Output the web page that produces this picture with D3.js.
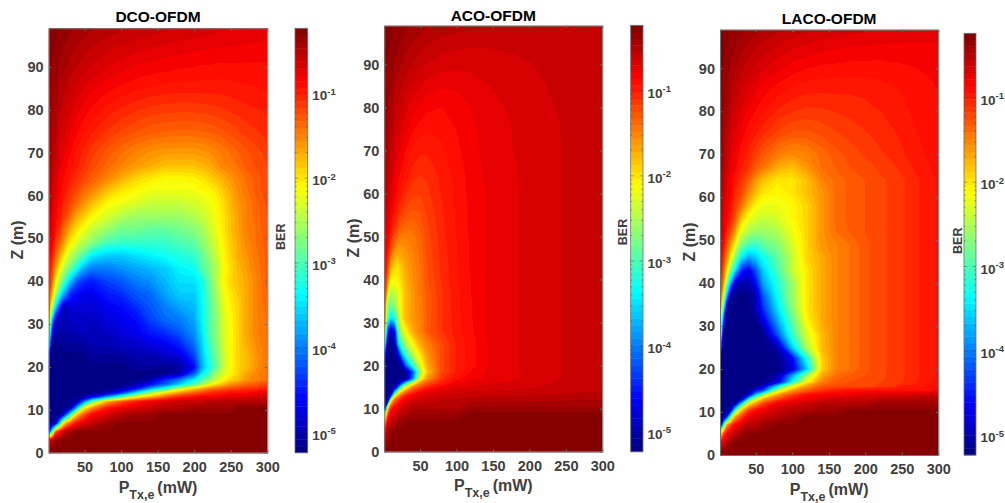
<!DOCTYPE html>
<html><head><meta charset="utf-8">
<script src="https://cdn.jsdelivr.net/npm/d3@7"></script>
<style>html,body{margin:0;padding:0;background:#fff}svg{display:block}text{font-family:"Liberation Sans",Arial,sans-serif;font-weight:bold}</style>
</head><body><svg id="c" width="1005" height="503"></svg>
<script>
// grid values: ten times |log10(BER)|; rows run top (high Z) to bottom
const powerMW=[2,6,10,15,20,25,30,40,50,60,80,100,120,140,160,180,200,210,220,230,240,250,260,270,285,300];
const distanceZ=[98.5,95,90,85,80,75,70,67,64,61,58,55,52,49,46,43,40,37,34,31,28,25,22.5,20,18.5,17,16,15,14,13,12,10.5,9,7,5,3,1];
const titles=["DCO-OFDM","ACO-OFDM","LACO-OFDM"];
const xTicks=[50,100,150,200,250,300];
const yTicks=[0,10,20,30,40,50,60,70,80,90];
const berExponents=[-1,-2,-3,-4,-5];
const dcoGrid=[
[2.8,2.9,3,3.2,3.4,3.6,3.8,4.1,4.4,4.7,5.1,5.4,5.7,6,6.2,6.4,6.6,6.7,6.8,6.9,7,7.1,7.2,7.3,7.4,7.5],
[2.9,3,3.2,3.5,3.8,4,4.3,4.7,5.1,5.4,5.9,6.3,6.6,6.9,7.1,7.3,7.5,7.6,7.6,7.7,7.7,7.8,7.8,7.9,7.9,8],
[3,3.2,3.5,4,4.4,4.7,5,5.5,6,6.4,7,7.5,7.9,8.1,8.3,8.5,8.6,8.7,8.7,8.8,8.8,8.8,8.8,8.8,8.8,8.8],
[3.2,3.5,4,4.6,5.1,5.5,5.9,6.5,7.1,7.6,8.3,8.8,9.2,9.5,9.7,9.8,9.8,9.8,9.8,9.8,9.8,9.7,9.6,9.5,9.4,9.3],
[3.4,3.9,4.5,5.2,5.8,6.3,6.8,7.5,8.2,8.8,9.7,10.3,10.8,11.2,11.4,11.5,11.5,11.4,11.3,11.2,11,10.8,10.6,10.4,10.2,10],
[3.7,4.3,5,5.9,6.5,7.1,7.6,8.5,9.3,10,11,11.8,12.5,13,13.3,13.4,13.4,13.3,13.1,12.9,12.6,12.2,11.8,11.4,11,10.6],
[4,4.7,5.6,6.6,7.4,8,8.6,9.6,10.5,11.4,12.8,14,15,15.8,16.2,16.3,16.2,16,15.7,15.2,14.6,14,13.4,12.8,12.1,11.4],
[4,5,6,7,8,8.5,9,10,11,12,13.5,15,16,17,18,18,18,17.5,17,16,15,14.5,14,13,12.3,11.7],
[5,5,7,8,8.5,9,10,11,12,13,15,17,19,20,21,21,20.5,20,19,18,17,16,15,14,13,12],
[5,6,7,8,9,10,11,12,14,15,18,20,21,22,22,22,22,21,21,20,18.5,17,15.5,14.5,13,12],
[5,6,8,9,10,11,12,14,16,18,21,22,23,24,24,24,23,23,22,21,19.5,17.5,16,15,13.5,12.3],
[6,7,8,10,11,12,14,17,19,21,23,25,26,26,26,26,25,24,23,21.5,20,18,16.5,15,13.7,12.5],
[6,7,9,11,13,15,17,20,22,24,26,28,28,29,29,28,27,26,24,22,20,18,16.5,15,14,12.7],
[7,8,11,13,15,18,20,23,25,27,30,31,31,31,31,30,29,27,25,23,20.5,18.5,17,15.5,14,12.8],
[8,10,13,16,19,22,24,27,30,34,36,36,35,34,33,32,31,29,26.5,24,21,19,17,16,14.3,13],
[9,12,16,20,23,26,28,33,38,40,40,39,38,37,36,34,33,30,27.5,25,21.5,19.5,17.7,16.5,14.6,13],
[10,14,20,24,28,32,36,42,44,45,43,42,40,39,37,35,35,33,29,25,21,19,18,17,15,13],
[12,18,24,30,36,40,44,46,47,47,45,44,42,41,38,36,36,33.5,29.5,26,22,20,18.5,17,15,13.3],
[15,24,34,42,48,50,48,48,48,48,47,46,44,42,40,38,37,34,30,26.5,22.5,20.5,19,17,15,13.5],
[20,36,47,50,50,50,49,49,49,49,48,47,46,43,41,40,38,34,30,27,23,21,19,17,15,14],
[26,47,50,50,51,50,50,50,49,50,49,48,47,45,44,42,39,35,30,27,23,21,19,17,15,14],
[36,52,52,52,51,51,51,51,51,50,50,49,49,48,47,45,41,36,31,27.5,23.5,21,19,17.5,15.5,14],
[50,52,52,52,52,52,52,52,52,51,51,51,50,50,49,48,43,37,32,28,24,21,19,18,16,14],
[52,52,52,52,52,52,52,52,52,52,52,52,51,51,51,51,46,38,33,29,24,21,19,18,16,14],
[52,52,52,52,52,52,52,52,52,52,52,52,52,52,52,50,42,35,31,26,23,21,19,17,15,14],
[52,52,52,52,52,52,52,52,52,52,52,52,52,50,44,40,34,30,27,24,21,19,18,16,15,14],
[52,52,52,52,52,52,52,52,52,52,52,52,50,46,42,36,30,27,23,20,18,16,15,14,13,12],
[52,52,52,52,52,52,52,52,52,52,52,50,46,38,32,24,19,17,15,14,13,12,12,11,11,10],
[52,52,52,52,52,52,52,52,52,52,50,44,35,26,20,16,13,12,11,10,10,9,9,9,8,8],
[52,52,52,52,52,52,52,52,50,46,38,29,21,17,13,10,9,8,8,8,7,7,7,7,6,6],
[52,52,52,52,52,52,52,50,40,30,18,13,10,8,7,6,6,6,5,5,5,5,5,5,5,5],
[52,52,52,52,52,52,50,36,21,16,10,8,7,6,5,5,4,4,4,4,4,4,3,3,3,3],
[52,52,52,52,50,42,34,19,13,9,7,5,4,4,3,3,3,3,3,3,3,3,3,3,3,3],
[52,52,50,38,24,17,14,9,7,6,4,3,3,3,3,3,3,3,3,3,3,3,3,3,3,3],
[44,30,14,10,7,5,4,3,3,3,3,3,3,3,3,3,3,3,3,3,3,3,3,3,3,3],
[7,5,4,3,3,3,3,3,3,3,3,3,3,3,3,3,3,3,3,3,3,3,3,3,3,3],
[3,3,3,3,3,3,3,3,3,3,3,3,3,3,3,3,3,3,3,3,3,3,3,3,3,3]];
const acoGrid=[
[2.8,2.9,3,3.2,3.4,3.6,3.8,4.1,4.4,4.7,5,5.2,5.4,5.5,5.6,5.6,5.6,5.6,5.6,5.6,5.6,5.6,5.6,5.6,5.6,5.6],
[2.9,3,3.2,3.5,3.8,4,4.3,4.7,5.1,5.4,5.8,6,6.1,6.1,6.1,6.1,6,6,5.9,5.9,5.8,5.8,5.7,5.7,5.6,5.6],
[3,3.2,3.5,4,4.4,4.7,5,5.5,6,6.3,6.7,6.8,6.8,6.7,6.6,6.4,6.3,6.2,6.1,6.1,6,5.9,5.8,5.8,5.7,5.6],
[3.2,3.5,4,4.6,5.1,5.5,5.9,6.5,7,7.4,7.7,7.7,7.4,7.1,6.9,6.7,6.5,6.4,6.3,6.2,6.1,6,5.9,5.8,5.7,5.6],
[3.4,3.9,4.5,5.2,5.8,6.3,6.8,7.5,8,8.4,8.6,8.3,7.8,7.4,7.1,6.9,6.6,6.5,6.4,6.3,6.2,6.1,6,5.9,5.8,5.7],
[3.7,4.3,5,5.9,6.5,7.1,7.6,8.5,9,9.3,9.2,8.6,8,7.5,7.2,7,6.7,6.6,6.5,6.4,6.3,6.1,6,5.9,5.8,5.7],
[4,4.7,5.6,6.6,7.4,8,8.6,9.6,10,10,9.5,8.8,8.1,7.6,7.3,7,6.8,6.7,6.5,6.4,6.3,6.2,6.1,5.9,5.8,5.7],
[4.2,5,6,7,7.8,8.5,9.1,10,10.5,10.4,9.7,9,8.2,7.7,7.3,7.1,6.8,6.7,6.6,6.4,6.3,6.2,6.1,6,5.8,5.7],
[4.5,5.3,6.4,7.5,8.4,9,9.7,10.7,11,10.8,9.9,9.1,8.3,7.7,7.4,7.1,6.8,6.7,6.6,6.5,6.3,6.2,6.1,6,5.8,5.7],
[4.8,5.7,6.8,8,9,9.7,10.4,11.3,11.5,11.1,10,9.2,8.3,7.8,7.4,7.1,6.9,6.7,6.6,6.5,6.3,6.2,6.1,6,5.8,5.7],
[5.1,6.1,7.4,8.7,9.8,10.6,11.3,12,12,11.3,10.2,9.2,8.4,7.8,7.4,7.1,6.9,6.7,6.6,6.5,6.3,6.2,6.1,6,5.8,5.7],
[5.5,6.7,8.1,9.7,10.9,11.8,12.4,13,12.6,11.6,10.3,9.3,8.4,7.8,7.4,7.1,6.9,6.7,6.6,6.5,6.3,6.2,6.1,6,5.8,5.7],
[6,7.4,9.2,11,12.5,13.3,13.8,13.9,13.2,11.9,10.4,9.3,8.4,7.8,7.4,7.1,6.9,6.7,6.6,6.5,6.3,6.2,6.1,6,5.8,5.7],
[6.6,8.4,10.8,13.2,14.8,15.2,15,14.6,13.6,12.1,10.5,9.4,8.5,7.8,7.4,7.1,6.9,6.7,6.6,6.5,6.3,6.2,6.1,6,5.8,5.7],
[7.2,10,13.5,16,17,16.6,16,15,13.9,12.3,10.6,9.4,8.5,7.8,7.4,7.1,6.9,6.7,6.6,6.5,6.3,6.2,6.1,6,5.8,5.7],
[8,12,16.8,19,19.5,18,16.8,15.4,14.1,12.5,10.7,9.5,8.5,7.8,7.4,7.1,6.9,6.7,6.6,6.5,6.3,6.2,6.1,6,5.8,5.7],
[9,15,21,21,20.5,19,17.4,15.7,14.3,12.6,10.8,9.5,8.6,7.8,7.4,7.1,6.9,6.7,6.6,6.5,6.3,6.2,6.1,6,5.8,5.7],
[10,20,25,24,22,20,18,16,14.5,13,11,9.6,8.6,7.8,7.4,7.1,6.9,6.7,6.6,6.5,6.3,6.2,6.1,6,5.8,5.7],
[12,28,28,27,23,20,18,16,14.7,13,11,9.6,8.7,7.8,7.4,7.1,6.9,6.7,6.6,6.5,6.3,6.2,6.1,6,5.8,5.7],
[14,30,35,33,26,20,18,16,15,13,11,9.7,8.7,7.8,7.4,7.1,6.9,6.7,6.6,6.5,6.3,6.2,6.1,6,5.8,5.7],
[18,44,50,46,30,24,21,17,15,13,11,9.8,8.8,7.8,7.4,7.1,6.9,6.7,6.6,6.5,6.3,6.2,6.1,6,5.8,5.7],
[30,52,52,50,36,30,26,21,17,15,12,10,9,7.9,7.4,7.1,6.9,6.7,6.6,6.5,6.3,6.2,6.1,6,5.8,5.7],
[46,52,52,52,48,38,32,25,20,16,12,10,9,7.9,7.4,7.1,6.9,6.7,6.6,6.5,6.3,6.2,6.1,6,5.8,5.7],
[52,52,52,52,52,50,42,32,23,17,12,10,9,7.9,7.4,7.1,6.9,6.7,6.6,6.5,6.3,6.2,6.1,6,5.8,5.7],
[52,52,52,52,52,52,52,42,26,18,12,10,8.5,7.8,7.4,7.1,6.9,6.7,6.6,6.5,6.3,6.2,6.1,6,5.8,5.7],
[52,52,52,52,52,52,52,40,22,16,11,9,8.2,7.7,7.4,7.1,6.9,6.7,6.6,6.5,6.3,6.2,6.1,6,5.8,5.7],
[52,52,52,52,50,44,36,23,16,13,10,8,7.4,7.2,7,6.8,6.7,6.5,6.4,6.3,6.2,6.1,6,5.9,5.8,5.7],
[52,52,52,50,40,28,22,15,12,10,8,7.3,7,6.8,6.7,6.5,6.4,6.3,6.2,6.1,6,6,5.9,5.8,5.7,5.6],
[52,52,52,38,26,19,15,11,9,8,7,6.5,6.3,6.2,6.1,6,6,5.9,5.9,5.8,5.8,5.7,5.7,5.6,5.6,5.5],
[52,52,44,22,16,12,10,8,7,6.8,6.2,5.9,5.7,5.6,5.6,5.5,5.5,5.4,5.4,5.4,5.3,5.3,5.3,5.2,5.2,5.2],
[52,50,22,14,11,9,8,7,6.3,6,5.5,5.2,5.1,5,5,4.9,4.9,4.8,4.8,4.8,4.8,4.7,4.7,4.7,4.7,4.7],
[50,22,12,9,8,7,6,5,5,5,5,5,4,4,4,4,4,4,4,4,4,4,4,4,4,4],
[30,12,8,7,6,5,5,4,4,4,4,4,3,3,3,3,3,3,3,3,3,3,3,3,3,3],
[16,7,6,5,4,4,3,3,3,3,3,3,3,3,3,3,3,3,3,3,3,3,3,3,3,3],
[8,5,4,3,3,3,3,3,3,3,3,3,3,3,3,3,3,3,3,3,3,3,3,3,3,3],
[5,4,3,3,3,3,3,3,3,3,3,3,3,3,3,3,3,3,3,3,3,3,3,3,3,3],
[3,3,3,3,3,3,3,3,3,3,3,3,3,3,3,3,3,3,3,3,3,3,3,3,3,3]];
const lacoGrid=[
[2.8,2.9,3,3.2,3.4,3.6,3.9,4.2,4.6,4.9,5.4,5.8,6.2,6.5,6.7,6.9,7,7.1,7.1,7.2,7.2,7.3,7.3,7.3,7.3,7.3],
[2.9,3,3.2,3.5,3.8,4.1,4.4,4.9,5.4,5.8,6.4,6.9,7.2,7.5,7.7,7.8,7.9,7.9,8,8,8,8,8,8,8,8],
[3,3.2,3.5,4,4.5,4.9,5.3,5.9,6.5,6.9,7.6,8.2,8.6,8.8,8.9,9,9,9,9,8.9,8.9,8.8,8.7,8.6,8.5,8.4],
[3.2,3.5,4,4.7,5.3,5.8,6.3,7,7.6,8.2,9,9.6,9.9,10,10,10,9.9,9.8,9.7,9.6,9.5,9.3,9.1,9,8.8,8.6],
[3.4,3.9,4.5,5.3,6,6.6,7.1,8,8.7,9.3,10.3,10.9,11.2,11.1,10.9,10.7,10.5,10.3,10.2,10,9.8,9.6,9.4,9.2,9,8.7],
[3.7,4.3,5,6,6.8,7.5,8.1,9.1,10,10.7,11.9,12.6,12.7,12.3,11.8,11.4,11,10.8,10.6,10.4,10.2,10,9.7,9.4,9.1,8.8],
[4,4.7,5.6,6.7,7.7,8.4,9.2,10.4,11.6,12.8,14.6,15.5,15,13.8,12.8,12.1,11.6,11.4,11.1,10.9,10.6,10.3,10,9.7,9.3,8.9],
[4,5,6,7,8,9,10,11,13,14,17,18,16,14,13.2,12.5,12,11.8,11.5,11.3,11,10.7,10.3,10,9.5,9],
[5,5,7,8,9,10,11,13,16,18,20,20,18,15,13.8,13,12.5,12.2,11.9,11.7,11.4,11.1,10.7,10.3,9.8,9.3],
[5,6,7,8,10,11,12,15,18,20,21,20,18,16,13.8,13,12.5,12.2,11.9,11.7,11.4,11.1,10.7,10.3,9.8,9.3],
[5,6,8,9,11,12,14,18,21,22,22,21,19,16,13.8,13,12.5,12.2,11.9,11.7,11.4,11.1,10.7,10.3,9.8,9.3],
[6,7,8,10,12,15,18,22,23,24,23,21,19,16,13.8,13,12.5,12.2,11.9,11.7,11.4,11.1,10.7,10.3,9.8,9.3],
[6,7,10,12,15,19,22,25,26,26,25,22,19,16,14,13.2,12.5,12.2,11.9,11.7,11.4,11.1,10.7,10.3,9.8,9.3],
[7,9,12,16,19,24,27,30,31,29,27,23,19,16,15,14,12.8,12.3,11.9,11.7,11.4,11.1,10.7,10.3,9.8,9.3],
[8,11,15,20,25,29,34,38,36,33,29,24,19,17,15,14,12.8,12.3,11.9,11.7,11.4,11.1,10.7,10.3,9.8,9.3],
[9,13,19,26,32,38,44,47,42,36,30,24,20,17,15,14,12.8,12.3,11.9,11.7,11.4,11.1,10.7,10.3,9.8,9.3],
[10,16,26,36,46,50,50,50,46,38,32,26,20,17,15,14,12.8,12.3,11.9,11.7,11.4,11.1,10.7,10.3,9.8,9.3],
[12,22,36,50,52,52,52,52,50,42,33,26,20,17,15,14,12.8,12.3,11.9,11.7,11.4,11.1,10.7,10.3,9.8,9.3],
[15,32,50,52,52,52,52,52,50,44,35,27,20,17,15,14,12.8,12.3,11.9,11.7,11.4,11.1,10.7,10.3,9.8,9.3],
[20,44,52,52,52,52,52,52,52,48,38,29,21,17,15,14,12.8,12.3,11.9,11.7,11.4,11.1,10.7,10.3,9.8,9.3],
[26,52,52,52,52,52,52,52,52,52,42,31,23,18,15,14,12.8,12.3,11.9,11.7,11.4,11.1,10.7,10.3,9.8,9.3],
[40,52,52,52,52,52,52,52,52,52,50,36,25,18,15,14,12.8,12.3,11.9,11.7,11.4,11.1,10.7,10.3,9.8,9.3],
[52,52,52,52,52,52,52,52,52,52,52,46,32,19,15,14,12.8,12.3,11.9,11.7,11.4,11.1,10.7,10.3,9.8,9.3],
[52,52,52,52,52,52,52,52,52,52,52,48,36,19,15,14,12.8,12.3,11.9,11.7,11.4,11.1,10.7,10.3,9.8,9.3],
[52,52,52,52,52,52,52,52,52,52,50,38,26,17,14,13,12.5,12.2,11.9,11.7,11.4,11.1,10.7,10.3,9.8,9.3],
[52,52,52,52,52,52,52,52,52,52,48,33,21,15,13,12.5,12.2,12,11.8,11.6,11.3,11,10.6,10.2,9.7,9.2],
[52,52,52,52,52,52,52,52,52,48,34,22,16,13,12,12,12,12,11,11,11,10,10,10,9,9],
[52,52,52,52,52,52,52,52,46,42,24,16,13,11,10,9,9,9,9,9,9,9,9,9,9,8],
[52,52,52,52,52,52,52,48,36,26,16,12,9,8,8,8,7,7,7,7,7,7,7,6,6,6],
[52,52,52,52,52,52,50,33,23,17,12,9,8,7,6,6,6,6,5,5,5,5,5,5,5,5],
[52,52,52,52,52,44,36,21,16,12,8,7,6,5,5,5,5,4,4,4,4,4,4,4,4,4],
[52,52,52,50,36,26,19,12,9,8,6,5,5,4,4,3,3,3,3,3,3,3,3,3,3,3],
[52,52,46,32,19,15,12,8,7,6,5,4,3,3,3,3,3,3,3,3,3,3,3,3,3,3],
[48,30,16,12,9,8,7,5,5,4,3,3,3,3,3,3,3,3,3,3,3,3,3,3,3,3],
[20,12,9,7,6,5,4,3,3,3,3,3,3,3,3,3,3,3,3,3,3,3,3,3,3,3],
[9,7,5,4,3,3,3,3,3,3,3,3,3,3,3,3,3,3,3,3,3,3,3,3,3,3],
[4,3,3,3,3,3,3,3,3,3,3,3,3,3,3,3,3,3,3,3,3,3,3,3,3,3]];

const panels=[
 {grid:dcoGrid,left:48.7,right:267.3,top:28.3,bottom:452.7,cbL:295,cbR:307.7,cbT:28.3,cbB:452.7,berX:284.7,berY:236.7,titleY:22,xLab:492.5,yLabX:23,yLabY:240},
 {grid:acoGrid,left:384.3,right:602.3,top:25.7,bottom:451.7,cbL:630.7,cbR:643,cbT:25.3,cbB:451.7,berX:626.7,berY:232,titleY:20.5,xLab:490.5,yLabX:358.5,yLabY:238},
 {grid:lacoGrid,left:720,right:938.3,top:29.7,bottom:455,cbL:964,cbR:976,cbT:33.3,cbB:455,berX:961.7,berY:240.7,titleY:24,xLab:494.5,yLabX:694.5,yLabY:242}
];
const jet=t=>{const c=v=>Math.round(255*Math.max(0,Math.min(1,v)));
 return d3.rgb(c(Math.min(4*t-1.5,-4*t+4.5)),c(Math.min(4*t-.5,-4*t+3.5)),c(Math.min(4*t+.5,-4*t+2.5))).formatHex();};
const jet64=d3.range(64).map(i=>jet((i+.5)/64));
const LOG_MIN=-5.235,LOG_MAX=-0.235;
const bandLow=d3.range(64).map(i=>LOG_MIN+i*(LOG_MAX-LOG_MIN)/64);
const svg=d3.select("#c");
const defs=svg.append("defs");
defs.append("filter").attr("id","soft").attr("filterUnits","userSpaceOnUse").attr("x",0).attr("y",0).attr("width",1005).attr("height",503)
  .append("feGaussianBlur").attr("stdDeviation",0.7);
const ink="#404040",frame="#707070";
const nc=powerMW.length,nr=distanceZ.length;

panels.forEach((p,k)=>{
 const x=d3.scaleLinear().domain([1,300]).range([p.left,p.right]);
 const y=d3.scaleLinear().domain([0,99]).range([p.bottom,p.top]);
 const g=svg.append("g");
 defs.append("clipPath").attr("id","clip"+k).append("rect").attr("x",p.left).attr("y",p.top).attr("width",p.right-p.left).attr("height",p.bottom-p.top);
 // grid index -> data position (cell centres sit at i+.5)
 const colToP=d3.scaleLinear().domain([0,...powerMW.map((_,i)=>i+.5),nc]).range([-4,...powerMW,304]);
 const rowToZ=d3.scaleLinear().domain([0,...distanceZ.map((_,i)=>i+.5),nr]).range([103,...distanceZ,-4]);
 const path=d3.geoPath(d3.geoTransform({point(a,b){this.stream.point(x(colToP(a)),y(rowToZ(b)));}}));
 const flat=p.grid.flat();
 // filled bands: one contour per colour level, darkest red (lowest value) first
 const levels=d3.range(64).map(i=>({colour:jet64[63-i],v:-10*(LOG_MIN+(64-i)*(LOG_MAX-LOG_MIN)/64)}));
 const contours=d3.contours().size([nc,nr]).thresholds(levels.map(l=>l.v))(flat);
 const field=g.append("g").attr("clip-path",`url(#clip${k})`).append("g").attr("filter","url(#soft)");
 field.append("rect").attr("x",p.left-5).attr("y",p.top-5).attr("width",p.right-p.left+10).attr("height",p.bottom-p.top+10).attr("fill",jet64[63]);
 field.selectAll("path").data(contours).join("path").attr("d",path).attr("fill",(d,i)=>levels[i].colour);
 // axes
 const style=s=>{s.select(".domain").attr("stroke",frame);s.selectAll("line").attr("stroke",frame);s.selectAll("text").attr("fill",ink).style("font-size","14.5px");};
 g.append("g").attr("transform",`translate(0,${p.bottom})`).call(d3.axisBottom(x).tickValues(xTicks).tickSize(-2.5).tickPadding(9).tickSizeOuter(0)).call(style);
 g.append("g").attr("transform",`translate(${p.left},0)`).call(d3.axisLeft(y).tickValues(yTicks).tickSize(-2.5).tickPadding(5).tickSizeOuter(0)).call(style);
 g.append("g").attr("transform",`translate(0,${p.top})`).call(d3.axisTop(x).tickValues(xTicks).tickSize(-2.5).tickFormat("").tickSizeOuter(0)).call(style);
 g.append("g").attr("transform",`translate(${p.right},0)`).call(d3.axisRight(y).tickValues(yTicks).tickSize(-2.5).tickFormat("").tickSizeOuter(0)).call(style);
 // title and labels
 g.append("text").attr("x",(p.left+p.right)/2).attr("y",p.titleY).attr("text-anchor","middle").attr("fill","#000").style("font-size","15.5px").text(titles[k]);
 const xl=g.append("text").attr("x",(p.left+p.right)/2).attr("y",p.xLab).attr("text-anchor","middle").attr("fill",ink).style("font-size","16px");
 xl.append("tspan").text("P");
 xl.append("tspan").attr("dy",6).style("font-size","12.5px").text("Tx,e");
 xl.append("tspan").attr("dy",-6).attr("dx",3).text("(mW)");
 g.append("text").attr("transform",`translate(${p.yLabX},${p.yLabY}) rotate(-90)`).attr("text-anchor","middle").attr("fill",ink).style("font-size","16px").text("Z (m)");
 g.append("text").attr("transform",`translate(${p.berX},${p.berY}) rotate(-90)`).attr("text-anchor","middle").attr("fill",ink).style("font-size","12.5px").text("BER");
 // colour bar
 const cb=d3.scaleLinear().domain([LOG_MIN,LOG_MAX]).range([p.cbB,p.cbT]);
 g.append("g").selectAll("rect").data(jet64).join("rect")
  .attr("x",p.cbL).attr("width",p.cbR-p.cbL)
  .attr("y",(d,i)=>cb(bandLow[i])-(p.cbB-p.cbT)/64).attr("height",(p.cbB-p.cbT)/64+.4).attr("fill",d=>d);
 g.append("rect").attr("x",p.cbL).attr("y",p.cbT).attr("width",p.cbR-p.cbL).attr("height",p.cbB-p.cbT).attr("fill","none").attr("stroke",frame).attr("stroke-width",.8);
 const minor=[];
 berExponents.concat([-6]).forEach(e=>d3.range(2,10).forEach(m=>{const l=e+Math.log10(m);if(l>LOG_MIN&&l<LOG_MAX)minor.push(l);}));
 const ticks=g.append("g").attr("stroke","#333").attr("stroke-width",.6).attr("opacity",.7);
 [[minor,1.6],[berExponents,3.2]].forEach(([list,len])=>{
  ticks.selectAll(null).data(list).join("line").attr("x1",p.cbL).attr("x2",p.cbL+len).attr("y1",cb).attr("y2",cb);
  ticks.selectAll(null).data(list).join("line").attr("x1",p.cbR-len).attr("x2",p.cbR).attr("y1",cb).attr("y2",cb);
 });
 berExponents.forEach(e=>{
  const t=g.append("text").attr("x",p.cbR+4.5).attr("y",cb(e)+7).attr("fill",ink).style("font-size","13.5px");
  t.append("tspan").text("10");
  t.append("tspan").attr("dy",-5.5).style("font-size","9.5px").text(String(e));
 });
});
</script></body></html>
